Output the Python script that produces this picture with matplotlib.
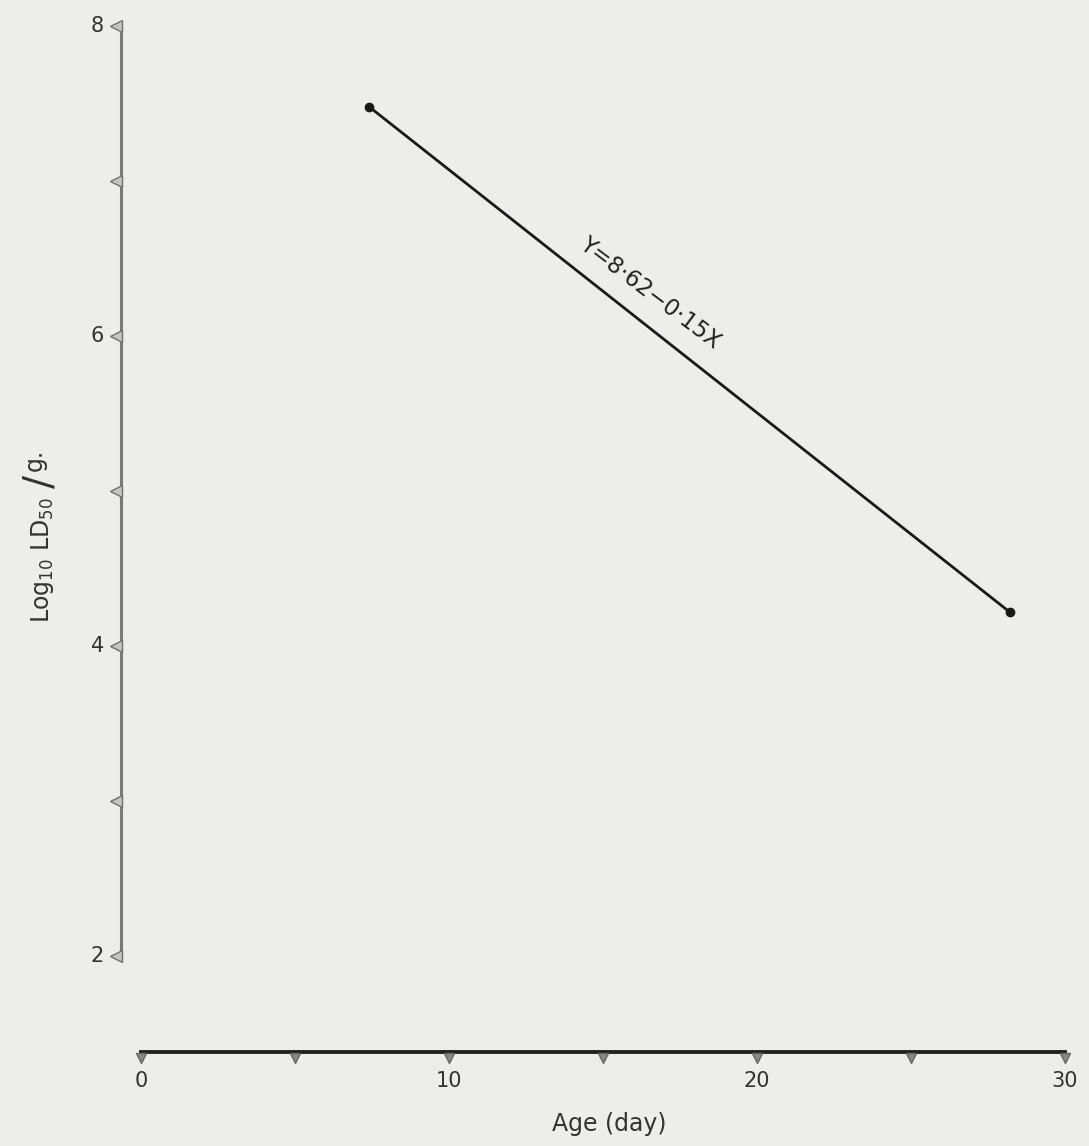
import matplotlib.pyplot as plt

# fitted line end points (age in days, log10 LD50/g)
ages = [7.4, 28.2]
log_ld50 = [7.48, 4.22]
equation = 'Y=8·62−0·15X'

y_ticks = [2, 3, 4, 5, 6, 7, 8]
y_labels = ['2', '', '4', '', '6', '', '8']
x_ticks = [0, 5, 10, 15, 20, 25, 30]
x_labels = ['0', '', '10', '', '20', '', '30']

paper = '#ededeb'
fig = plt.figure(figsize=(10.89, 11.46), dpi=100, facecolor=paper)
ax = fig.add_axes([0, 0, 1, 1])
ax.set_facecolor(paper)
ax.set_xlim(-4.58, 30.78)
ax.set_ylim(0.774, 8.168)
ax.axis('off')

# hand drawn y axis
yax_x = -0.65
ax.plot([yax_x, yax_x], [y_ticks[0], y_ticks[-1]], color='#7a7a7a', lw=2.2)
ax.plot([yax_x - 0.17] * len(y_ticks), y_ticks, ls='none', marker='<', ms=8,
        mfc='#c4c4c4', mec='#707070', mew=1)
for v, lab in zip(y_ticks, y_labels):
    if lab:
        ax.text(yax_x - 0.55, v, lab, ha='right', va='center', fontsize=15, color='#333333')

# x axis
xax_y = 1.38
ax.plot([x_ticks[0], x_ticks[-1]], [xax_y, xax_y], color='#222222', lw=2.8)
ax.plot(x_ticks, [xax_y - 0.04] * len(x_ticks), ls='none', marker='v', ms=7,
        mfc='#888888', mec='#666666', mew=1)
for v, lab in zip(x_ticks, x_labels):
    if lab:
        ax.text(v, xax_y - 0.12, lab, ha='center', va='top', fontsize=15, color='#333333')

ax.text(15.2, 0.915, 'Age (day)', ha='center', va='center', fontsize=17, color='#333333')

# y label built from pieces so the slash can be large
ax.text(-3.2, 4.96, r'Log$_{10}$ LD$_{50}$', rotation=90, ha='center', va='top',
        fontsize=17, color='#333333')
ax.text(-3.27, 5.06, '/', rotation=90, ha='center', va='center',
        fontsize=28, color='#333333')
ax.text(-3.45, 5.13, 'g.', rotation=90, ha='center', va='bottom',
        fontsize=17, color='#333333')

# regression line with end dots
ax.plot(ages, log_ld50, color='#1a1a1a', lw=2.0)
ax.plot(ages, log_ld50, ls='none', marker='o', ms=6, color='#1a1a1a')
ax.text(16.53, 6.28, equation, rotation=-37, rotation_mode='anchor',
        ha='center', va='center', fontsize=16.5, color='#222222')

fig.savefig('out.png', dpi=100, facecolor=paper)
